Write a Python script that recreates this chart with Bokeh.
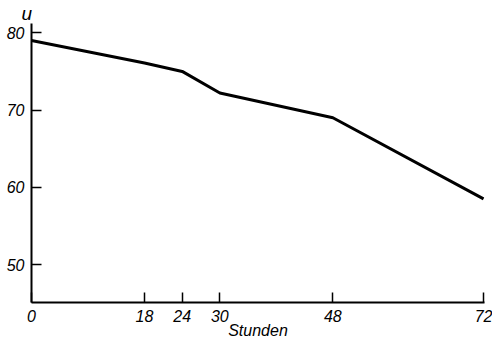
from bokeh.plotting import figure
from bokeh.models import Range1d, FixedTicker
from bokeh.embed import file_html
from bokeh.resources import INLINE

# Data
hours = [0, 18, 24, 30, 48, 72]
u_values = [79.0, 76.1, 75.0, 72.2, 69.0, 58.5]
x_ticks = [0, 18, 24, 30, 48, 72]
y_ticks = [50, 60, 70, 80]
x_title = "Stunden"
y_title = "u"

FONT = "Liberation Sans"

p = figure(width=492, height=343, output_backend="svg", toolbar_location=None,
           x_range=Range1d(0, 72.15), y_range=Range1d(45.1, 81.2),
           min_border_left=31, min_border_right=8, min_border_top=19,
           min_border_bottom=41)
p.outline_line_color = None
p.xgrid.visible = False
p.ygrid.visible = False
p.background_fill_color = "white"
p.border_fill_color = "white"

p.title.text = y_title
p.title.align = "left"
p.title.offset = -10
p.title.standoff = 0
p.title.text_font = FONT
p.title.text_font_style = "italic"
p.title.text_font_size = "19px"
p.title.text_color = "black"

p.line(hours, u_values, line_color="black", line_width=3)

for ax in (p.xaxis[0], p.yaxis[0]):
    ax.axis_line_color = "black"
    ax.axis_line_width = 2
    ax.major_tick_line_color = "black"
    ax.major_tick_line_width = 1.5
    ax.major_tick_in = 10
    ax.major_tick_out = 0
    ax.minor_tick_line_color = None
    ax.major_label_text_font = FONT
    ax.major_label_text_font_style = "italic"
    ax.major_label_text_font_size = "16px"
    ax.major_label_text_color = "black"
    ax.major_label_standoff = 7

p.xaxis.ticker = FixedTicker(ticks=x_ticks)
p.yaxis.ticker = FixedTicker(ticks=y_ticks)

p.xaxis.axis_label = x_title
p.xaxis.axis_label_text_font = FONT
p.xaxis.axis_label_text_font_style = "italic"
p.xaxis.axis_label_text_font_size = "16px"
p.xaxis.axis_label_text_color = "black"
p.xaxis.axis_label_standoff = -3

open("out.html", "w").write(file_html(p, INLINE))
